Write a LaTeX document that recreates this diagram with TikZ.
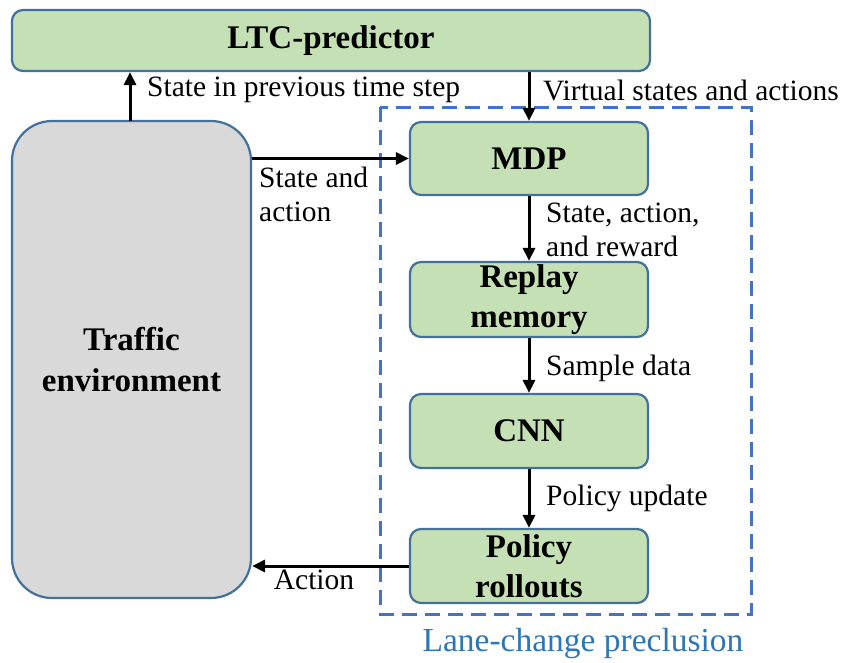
\documentclass[tikz,border=0pt]{standalone}
\usepackage{fontspec}
\setmainfont{Liberation Serif}
\usetikzlibrary{arrows.meta}
\definecolor{boxgreen}{HTML}{C5E0B4}
\definecolor{boxedge}{HTML}{41719C}
\definecolor{envgrey}{HTML}{D9D9D9}
\definecolor{dashblue}{HTML}{4472C4}
\definecolor{lanetext}{HTML}{2E75B6}
\tikzset{
  greenbox/.style={draw=boxedge, line width=2.2pt, fill=boxgreen, rounded corners=11pt,
    minimum width=238pt, minimum height=74pt, inner sep=0pt, align=center,
    font=\fontsize{33}{40}\selectfont\bfseries},
  envbox/.style={draw=boxedge, line width=2.2pt, fill=envgrey, rounded corners=40pt,
    minimum width=239pt, minimum height=477pt, inner sep=0pt, align=center,
    font=\fontsize{33}{41}\selectfont\bfseries},
  flow/.style={line width=3pt, -{Triangle[length=13pt,width=12pt]}},
  lbl/.style={inner sep=0pt, align=left, font=\fontsize{29.5}{34}\selectfont},
  lanebox/.style={draw=dashblue, line width=3pt, dash pattern=on 15pt off 8pt}
}
\begin{document}
\begin{tikzpicture}[x=1pt,y=-1pt]
\useasboundingbox (0,0) rectangle (843,662);
\draw[lanebox] (380,107) rectangle (751,614);
\node[greenbox, minimum width=638pt, minimum height=61pt] (ltc) at (331,40.5) {LTC-predictor};
\node[envbox] (env) at (131.5,359.5) {Traffic\\environment};
\node[greenbox, minimum height=73pt] (mdp) at (529,158.5) {MDP};
\node[greenbox, minimum height=75pt] (rep) at (529,299.5) {Replay\\memory};
\node[greenbox] (cnn) at (529,431) {CNN};
\node[greenbox] (pol) at (529,566) {Policy\\rollouts};
\coordinate (envtop) at (130,121);
\draw[flow] (envtop) -- (envtop |- ltc.south);
\draw[flow] (ltc.south -| mdp.north) -- (mdp.north);
\draw[flow] (env.east |- mdp.west) -- (mdp.west);
\draw[flow] (mdp) -- (rep);
\draw[flow] (rep) -- (cnn);
\draw[flow] (cnn) -- (pol);
\draw[flow] (pol.west) -- (pol.west -| env.east);
\node[lbl, anchor=west] (l1) at (147,90) {State in previous time step};
\node[lbl, anchor=west] (l2) at (543,90) {Virtual states and actions};
\node[lbl, anchor=west] (l3) at (259,194) {State and\\action};
\node[lbl, anchor=west] (l4) at (546,230) {State, action,\\and reward};
\node[lbl, anchor=west] (l5) at (546,368) {Sample data};
\node[lbl, anchor=west] (l6) at (546,498) {Policy update};
\node[lbl] (l7) at (314,580) {Action};
\node[lbl, text=lanetext, font=\fontsize{33.5}{40}\selectfont] (l8) at (583,643) {Lane-change preclusion};
\end{tikzpicture}
\end{document}
